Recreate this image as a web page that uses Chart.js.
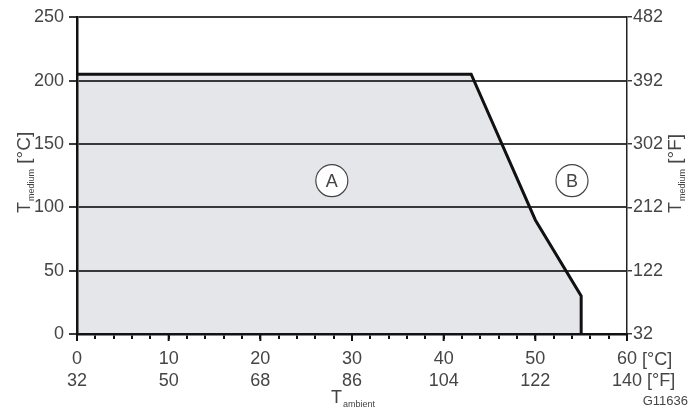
<!DOCTYPE html>
<html>
<head>
<meta charset="utf-8">
<title>T medium vs T ambient</title>
<script src="https://cdn.jsdelivr.net/npm/chart.js@4.4.1/dist/chart.umd.min.js"></script>
<style>
	html, body { margin: 0; padding: 0; background: #fff; }
	#wrap { width: 688px; height: 411px; }
</style>
</head>
<body>
<div id="wrap"><canvas id="mycanvas" width="688" height="411"></canvas></div>
<script>
// boundary of the permitted range (A), T ambient in °C vs T medium in °C
var ambientC = [0, 43, 50, 55, 55];
var mediumC = [205, 205, 90, 30, 0];

// region markers
var regionNames = ['A', 'B'];
var regionX = [27.8, 54];
var regionY = [121, 121];

// axis ticks
var xTicksC = [0, 10, 20, 30, 40, 50, 60];
var xTicksF = [32, 50, 68, 86, 104, 122, 140];
var yTicksC = [0, 50, 100, 150, 200, 250];
var yTicksF = [32, 122, 212, 302, 392, 482];

var txt = '#454545';
var fontName = '"Liberation Sans", Arial, sans-serif';

var extras = {
	id: 'extras',
	afterDraw: function(chart) {
		var ctx = chart.ctx;
		var xs = chart.scales.x;
		var ys = chart.scales.y;
		var bottom = chart.chartArea.bottom;
		ctx.save();

		// longer marks on the labelled x ticks
		ctx.strokeStyle = '#111';
		ctx.lineWidth = 2;
		for (var i = 0; i < xTicksC.length; i++) {
			var px = xs.getPixelForValue(xTicksC[i]);
			ctx.beginPath();
			ctx.moveTo(px, bottom);
			ctx.lineTo(px, bottom + 7);
			ctx.stroke();
		}

		// units after the last x label
		ctx.fillStyle = txt;
		ctx.font = '18px ' + fontName;
		ctx.textBaseline = 'alphabetic';
		ctx.textAlign = 'left';
		var lx = xs.getPixelForValue(60);
		ctx.fillText(' [°C]', lx + ctx.measureText('60').width / 2, 365);
		ctx.fillText(' [°F]', lx + ctx.measureText('140').width / 2, 386);

		// region letters
		ctx.textAlign = 'center';
		ctx.textBaseline = 'middle';
		for (var j = 0; j < regionNames.length; j++) {
			ctx.fillText(regionNames[j], xs.getPixelForValue(regionX[j]), ys.getPixelForValue(regionY[j]) + 1);
		}

		// axis titles
		ctx.textAlign = 'left';
		ctx.textBaseline = 'alphabetic';
		drawTitle(ctx, 30, 213, '[°C]');
		drawTitle(ctx, 681, 213, '[°F]');

		ctx.font = '18px ' + fontName;
		ctx.fillText('T', 331, 403);
		var tw = ctx.measureText('T').width;
		ctx.font = '9px ' + fontName;
		ctx.fillText('ambient', 331 + tw + 1, 407);

		ctx.font = '13px ' + fontName;
		ctx.textAlign = 'right';
		ctx.fillText('G11636', 688, 405);
		ctx.restore();
	}
};

function drawTitle(ctx, x, y, unit) {
	ctx.save();
	ctx.translate(x, y);
	ctx.rotate(-Math.PI / 2);
	ctx.font = '18px ' + fontName;
	ctx.fillText('T', 0, 0);
	var w1 = ctx.measureText('T').width;
	ctx.font = '9px ' + fontName;
	ctx.fillText('medium', w1 + 1, 4);
	var w2 = ctx.measureText('medium').width;
	ctx.font = '19px ' + fontName;
	ctx.fillText(' ' + unit, w1 + w2 + 1, 0);
	ctx.restore();
}

var boundary = [];
for (var i in ambientC) {
	boundary.push({x: ambientC[i], y: mediumC[i]});
}
var markers = [];
for (var k in regionNames) {
	markers.push({x: regionX[k], y: regionY[k]});
}

var chartdata = {
	datasets: [
		{
			label: 'Range A',
			data: boundary,
			borderColor: '#111',
			borderWidth: 3,
			backgroundColor: 'rgba(40,50,70,0.12)',
			fill: 'origin',
			pointRadius: 0,
			tension: 0,
			order: 1
		},
		{
			label: 'Markers',
			data: markers,
			showLine: false,
			pointRadius: 16,
			pointBackgroundColor: '#fff',
			pointBorderColor: '#444',
			pointBorderWidth: 1.2,
			order: 0
		}
	]
};

var ctx = document.getElementById('mycanvas');

var chart = new Chart(ctx, {
	type: 'line',
	data: chartdata,
	plugins: [extras],
	options: {
		responsive: false,
		animation: false,
		layout: { padding: { top: 17, left: 0, right: 0, bottom: 0 } },
		plugins: {
			legend: { display: false },
			tooltip: { enabled: false }
		},
		scales: {
			x: {
				type: 'linear',
				min: 0,
				max: 60,
				afterFit: function(s) { s.height = 77; },
				afterBuildTicks: function(s) {
					var t = [];
					for (var v = 0; v <= 60; v += 2) t.push({value: v});
					s.ticks = t;
				},
				grid: { drawOnChartArea: false, color: '#111', lineWidth: 2, tickLength: 5 },
				border: { color: '#111', width: 2.5 },
				ticks: {
					autoSkip: false,
					maxRotation: 0,
					color: txt,
					padding: 10,
					font: { family: fontName, size: 18, lineHeight: 1.17 },
					callback: function(value) {
						var idx = xTicksC.indexOf(value);
						if (idx < 0) return '';
						return [String(xTicksC[idx]), String(xTicksF[idx])];
					}
				}
			},
			y: {
				position: 'left',
				min: 0,
				max: 250,
				afterFit: function(s) { s.width = 77; },
				afterBuildTicks: function(s) {
					s.ticks = yTicksC.map(function(v) { return {value: v}; });
				},
				grid: { color: '#3a3a3a', lineWidth: 2, tickLength: 8 },
				border: { color: '#111', width: 2.5 },
				ticks: {
					color: txt,
					padding: 5,
					font: { family: fontName, size: 18 }
				}
			},
			y2: {
				position: 'right',
				min: 0,
				max: 250,
				afterFit: function(s) { s.width = 61; },
				afterBuildTicks: function(s) {
					s.ticks = yTicksC.map(function(v) { return {value: v}; });
				},
				grid: { drawOnChartArea: false, color: '#3a3a3a', lineWidth: 1.5, tickLength: 5 },
				border: { color: '#222', width: 1.5 },
				ticks: {
					color: txt,
					padding: 1,
					font: { family: fontName, size: 18 },
					callback: function(value) {
						return String(yTicksF[yTicksC.indexOf(value)]);
					}
				}
			}
		}
	}
});
</script>
</body>
</html>
